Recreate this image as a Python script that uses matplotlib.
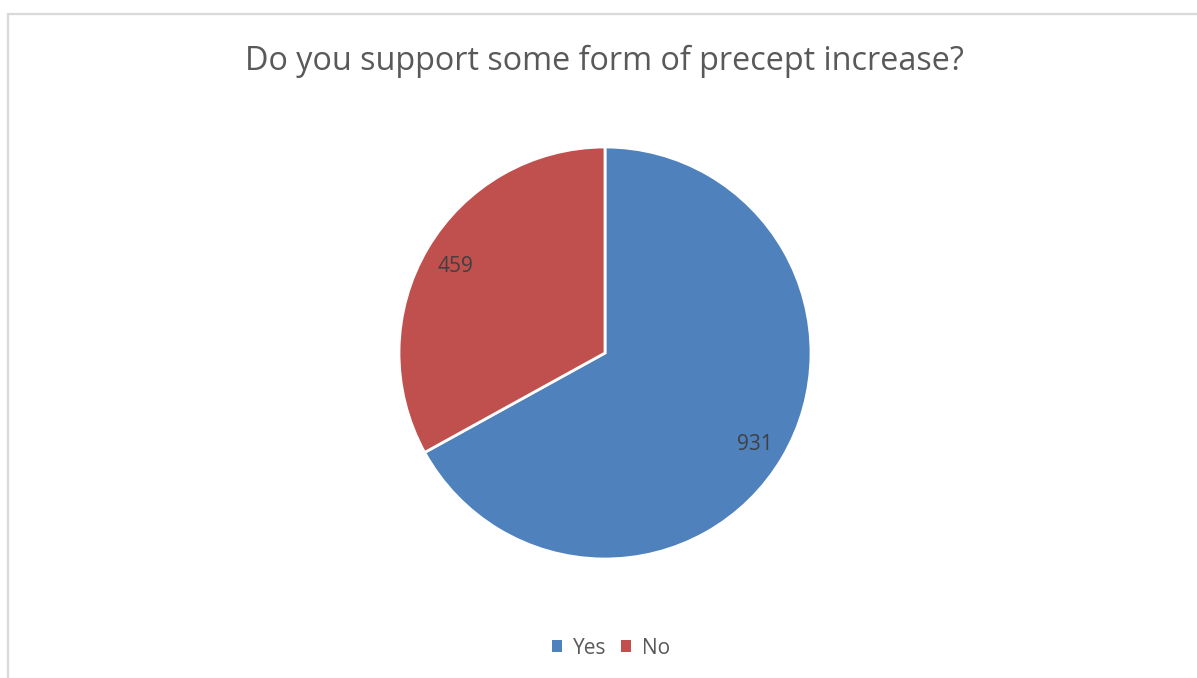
import matplotlib
matplotlib.use("Agg")
import matplotlib.pyplot as plt
from matplotlib.patches import Rectangle, Patch

categories = ["Yes", "No"]
values = [931, 459]
colors = ["#4F81BD", "#C0504D"]
title = "Do you support some form of precept increase?"

W, H = 1197, 678
fig = plt.figure(figsize=(W / 100, H / 100), dpi=100)
plt.rcParams['font.family'] = ['Open Sans', 'DejaVu Sans']

# chart border
fig.patches.append(Rectangle((7.5 / W, -0.01), 1.1, (H - 14) / H + 0.01, transform=fig.transFigure,
                             fill=False, edgecolor="#D9D9D9", linewidth=1.6))

cx, cy, r = 605, 353, 206
ax = fig.add_axes([(cx - r) / W, (H - cy - r) / H, 2 * r / W, 2 * r / H])
wedges, texts = ax.pie(values, colors=colors, startangle=90, counterclock=False,
                       labels=[str(v) for v in values], labeldistance=0.845,
                       wedgeprops=dict(edgecolor="white", linewidth=2),
                       textprops=dict(color="#404040", fontsize=15))
for t in texts:
    t.set_ha("center")
    t.set_va("center_baseline")
ax.set_xlim(-1, 1)
ax.set_ylim(-1, 1)
ax.axis("off")

fig.text(604 / W, 1 - 61 / H, title, ha="center", va="center", fontsize=23.3, color="#595959")

handles = [Patch(facecolor=c, edgecolor="none") for c in colors]
fig.legend(handles, categories, loc="center", bbox_to_anchor=(611 / W, 1 - 648 / H),
           ncol=2, frameon=False, fontsize=15, labelcolor="#595959",
           handlelength=0.5, handleheight=0.5, handletextpad=0.5, columnspacing=0.7)

fig.savefig("out.png", dpi=100)
